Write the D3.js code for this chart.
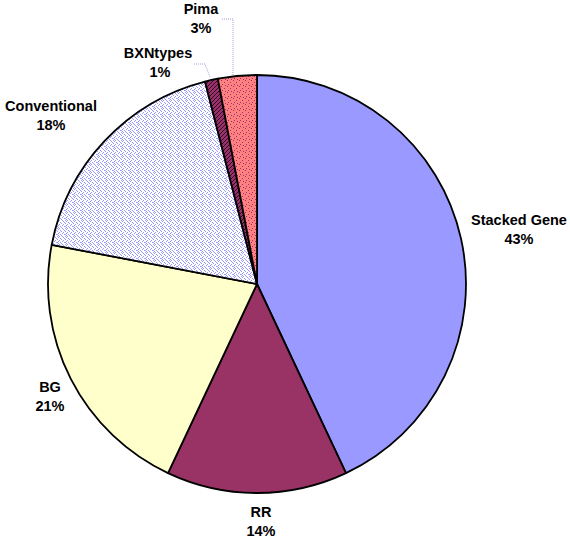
<!DOCTYPE html>
<html><head><meta charset="utf-8">
<script src="https://cdn.jsdelivr.net/npm/d3@7"></script>
<style>body{margin:0;background:#fff}svg{display:block}</style>
</head><body>
<script>
const categories = ["Stacked Gene","RR","BG","Conventional","BXNtypes","Pima"];
const values = [43,14,21,18,1,3];
const valueLabels = ["43%","14%","21%","18%","1%","3%"];
const fills = ["#9999ff","#993366","#ffffcc","url(#pConv)","url(#pBxn)","url(#pPima)"];

const W=570,H=539,cx=257,cy=284,R=209;
const svg=d3.select("body").append("svg").attr("width",W).attr("height",H);
const defs=svg.append("defs");
function pat(id,bg,dot,pts,size){
  const p=defs.append("pattern").attr("id",id).attr("patternUnits","userSpaceOnUse").attr("width",size).attr("height",size);
  p.append("rect").attr("width",size).attr("height",size).attr("fill",bg);
  pts.forEach(([x,y])=>p.append("rect").attr("x",x).attr("y",y).attr("width",1).attr("height",1).attr("fill",dot));
}
pat("pConv","#ffffff","#9999ff",[[0,0],[2,0],[5,0],[1,1],[3,2],[6,1],[0,3],[4,3],[2,4],[6,4],[1,5],[5,5],[3,6],[0,6],[7,2],[7,6],[4,7],[1,7]],8);
pat("pPima","#ff8080","#993366",[[0,0],[3,2],[1,4],[4,5]],6);
pat("pBxn","#993366","#330033",[[0,0],[2,2],[1,3],[3,1]],4);

const pie=d3.pie().sort(null).value(d=>d)(values);
const arc=d3.arc().innerRadius(0).outerRadius(R);
const g=svg.append("g").attr("transform",`translate(${cx},${cy})`);
g.selectAll("path").data(pie).join("path")
  .attr("d",arc).attr("fill",(d,i)=>fills[i])
  .attr("stroke","#000").attr("stroke-width",1.8).attr("stroke-linejoin","round");

// leader lines
const leaders=[
  [[194,64],[205,64],[210,77]],
  [[222,19],[233,19],[233,75]]
];
svg.selectAll("polyline").data(leaders).join("polyline")
  .attr("points",d=>d.map(p=>p.join(",")).join(" "))
  .attr("fill","none").attr("stroke","#a9a0d8").attr("stroke-width",1).attr("stroke-dasharray","1,1");

const labelPos=[[519,225],[261,517],[50,392],[51,111],[158,58],[201,14]];
const lg=svg.append("g").attr("font-family","Liberation Sans, Arial, sans-serif")
  .attr("font-weight","bold").attr("font-size","14.5px").attr("fill","#000").attr("text-anchor","middle");
categories.forEach((c,i)=>{
  const [x,y]=labelPos[i];
  lg.append("text").attr("x",x).attr("y",y).text(c);
  lg.append("text").attr("x",x+(i==4?2:0)).attr("y",y+19).text(valueLabels[i]);
});
</script>
</body></html>
